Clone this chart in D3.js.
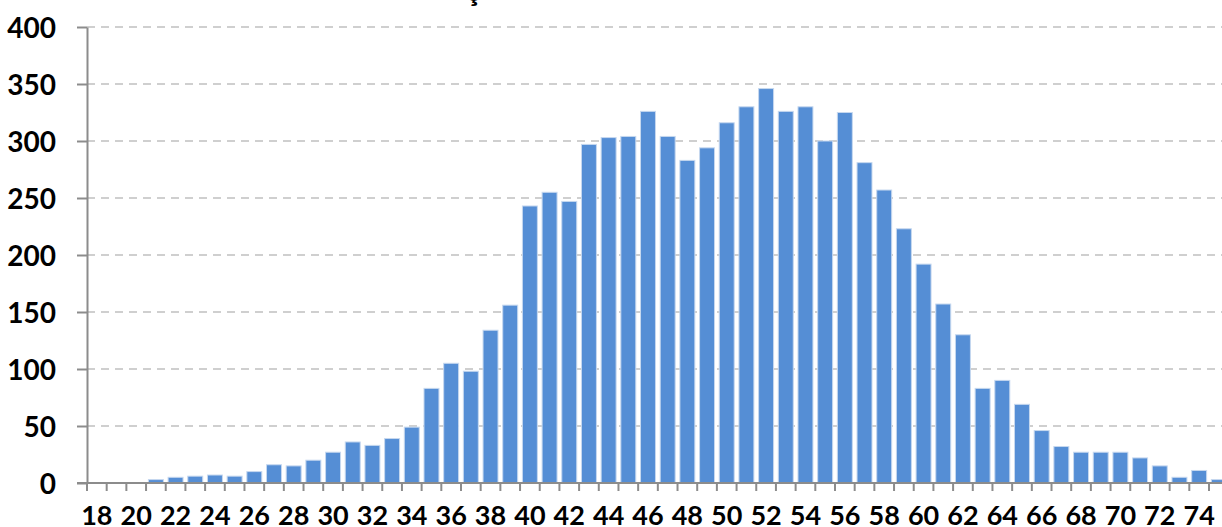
<!DOCTYPE html>
<html>
<head>
<meta charset="utf-8">
<script src="https://cdn.jsdelivr.net/npm/d3@7"></script>
<style>
  html, body { margin: 0; padding: 0; background: #fff; overflow: hidden; }
  svg { display: block; }
  text { font-family: Lato, "Open Sans", sans-serif; font-weight: 700; fill: #000; }
</style>
</head>
<body>
<svg id="chart" width="1222" height="527"></svg>
<script>
// ---- data ----
const ages = [18,19,20,21,22,23,24,25,26,27,28,29,30,31,32,33,34,35,36,37,38,39,40,41,42,43,44,45,46,47,48,49,50,51,52,53,54,55,56,57,58,59,60,61,62,63,64,65,66,67,68,69,70,71,72,73,74,75];
const counts = [0,0,0,3,5,6,7,6,10,16,15,20,27,36,33,39,49,83,105,98,134,156,243,255,247,297,303,304,326,304,283,294,316,330,346,326,330,300,325,281,257,223,192,157,130,83,90,69,46,32,27,27,27,22,15,5,11,3];
const yTicks = [0,50,100,150,200,250,300,350,400];
const xLabels = [18,20,22,24,26,28,30,32,34,36,38,40,42,44,46,48,50,52,54,56,58,60,62,64,66,68,70,72,74];
const titleFragment = "ç";

// ---- layout ----
const svg = d3.select("#chart");
const plotLeft = 87, plotBottom = 483, plotTop = 27;
const step = 19.684;
const x = d3.scaleBand()
  .domain(ages)
  .range([plotLeft, plotLeft + ages.length * step])
  .paddingInner(0.24)
  .paddingOuter(0.12);
const y = d3.scaleLinear().domain([0, 400]).range([plotBottom, plotTop]);

// title fragment (cut off at the top of the picture, as in the reference)
svg.append("text")
  .attr("x", 473).attr("y", 1)
  .attr("text-anchor", "middle")
  .style("font-size", "30px")
  .text(titleFragment);

// gridlines
svg.append("g")
  .selectAll("line")
  .data(yTicks.filter(d => d > 0))
  .join("line")
  .attr("x1", plotLeft).attr("x2", 1222)
  .attr("y1", d => y(d)).attr("y2", d => y(d))
  .attr("stroke", "#c0c0c0")
  .attr("stroke-width", 1.6)
  .attr("stroke-dasharray", "8,6");

// bars
svg.append("g")
  .selectAll("rect")
  .data(ages.map((a, i) => ({age: a, v: counts[i]})))
  .join("rect")
  .attr("x", d => x(d.age))
  .attr("width", x.bandwidth())
  .attr("y", d => y(d.v))
  .attr("height", d => plotBottom - y(d.v))
  .attr("fill", "#558ed5")
  .attr("stroke", "#c6d8ef")
  .attr("stroke-width", 1);

// y axis
const yAxis = svg.append("g")
  .attr("transform", `translate(${plotLeft},0)`)
  .call(d3.axisLeft(y).tickValues(yTicks).tickSize(10).tickPadding(21).tickSizeOuter(0));
yAxis.select(".domain").attr("stroke", "#8c8c8c").attr("stroke-width", 2);
yAxis.selectAll(".tick line").attr("stroke", "#8c8c8c").attr("stroke-width", 2);
yAxis.selectAll(".tick text")
  .style("font-size", "28px")
  .style("font-family", "Lato, sans-serif")
  .style("font-weight", "700")
  .attr("fill", "#000")
  .attr("dy", "0.36em");

// x axis line
svg.append("line")
  .attr("x1", plotLeft - 10).attr("x2", 1222)
  .attr("y1", plotBottom).attr("y2", plotBottom)
  .attr("stroke", "#8c8c8c").attr("stroke-width", 2);

// x ticks at category boundaries
const boundaries = ages.map(a => x(a) - x.step() * 0.12);
svg.append("g")
  .selectAll("line")
  .data(boundaries)
  .join("line")
  .attr("x1", d => d).attr("x2", d => d)
  .attr("y1", plotBottom).attr("y2", plotBottom + 8)
  .attr("stroke", "#8c8c8c").attr("stroke-width", 2);

// x labels
const xAxis = svg.append("g")
  .attr("transform", `translate(0,${plotBottom})`)
  .call(d3.axisBottom(x).tickValues(xLabels).tickSize(0).tickPadding(0));
xAxis.select(".domain").remove();
xAxis.selectAll(".tick text")
  .attr("y", 42)
  .attr("dy", 0)
  .style("font-size", "27px")
  .style("font-family", "Lato, sans-serif")
  .style("font-weight", "700")
  .attr("fill", "#000");
</script>
</body>
</html>
